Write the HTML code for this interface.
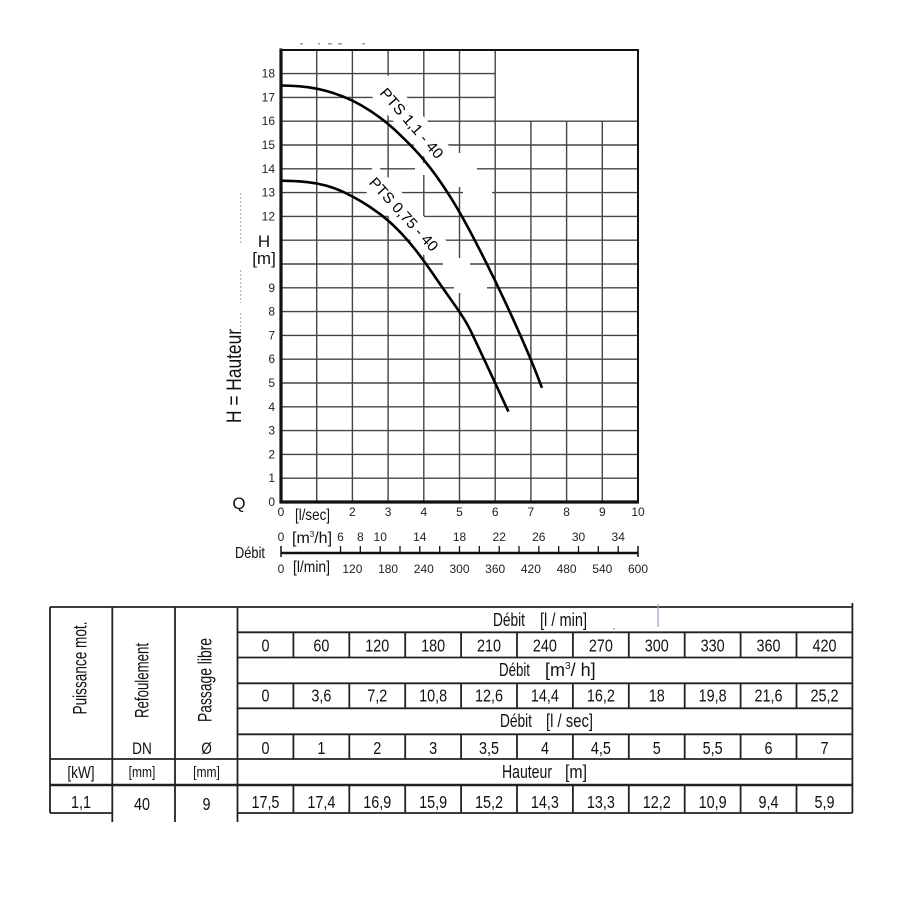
<!DOCTYPE html>
<html><head><meta charset="utf-8"><style>
html,body{margin:0;padding:0;background:#fff;}
svg{display:block;font-family:"Liberation Sans",sans-serif;}
.n{transform-box:fill-box;transform-origin:center;transform:scaleX(.8);}
</style></head><body>
<svg width="900" height="900" viewBox="0 0 900 900" xmlns="http://www.w3.org/2000/svg">
<rect width="900" height="900" fill="#fff"/>
<g fill="#999"><rect x="300" y="43" width="3" height="1.5"/><rect x="318" y="43" width="2" height="1.5"/><rect x="328" y="43" width="4" height="1.5"/><rect x="338" y="43" width="4" height="1.5"/><rect x="362" y="43" width="3" height="1.5"/></g>
<!-- grid -->
<g stroke="#444" stroke-width="1.4" fill="none">
<path d="M316.7 50V502M352.4 50V502M388.1 50V502M423.8 50V502M459.5 50V502M495.2 50V502"/>
<path d="M530.9 121.2V502M566.6 121.2V502M602.3 121.2V502"/>
<path d="M281 73.6H495.2M281 97.4H495.2"/>
<path d="M281 121.2H638M281 145H638M281 168.8H638M281 192.6H638M281 216.4H638M281 240.2H638M281 264H638M281 287.8H638M281 311.6H638M281 335.4H638M281 359.2H638M281 383H638M281 406.8H638M281 430.6H638M281 454.4H638M281 478.2H638"/>
</g>
<!-- white gaps -->
<g fill="#fff">
<rect x="415" y="163" width="62" height="12"/>
<rect x="454" y="153" width="11" height="34"/>
<rect x="463" y="186" width="29" height="13"/>
<rect x="443" y="258" width="27" height="12"/>
<rect x="454" y="258" width="11" height="34"/>
<rect x="457" y="282" width="30" height="11"/>
<g transform="translate(412,123) rotate(49)"><rect x="-52" y="-13" width="104" height="26"/></g>
<g transform="translate(404,214) rotate(47.5)"><rect x="-55" y="-13" width="110" height="26"/></g>
</g>
<!-- border -->
<g stroke="#111" fill="none">
<path d="M281 50H638V502" stroke-width="2"/>
<path d="M281 48.5V502H639" stroke-width="3.2"/>
</g>
<!-- curves -->
<g stroke="#000" stroke-width="2.6" fill="none" stroke-linejoin="round">
<path d="M281,85.5 L289.93,85.74 Q298.85,85.98 307.78,87.17 Q316.7,88.36 325.63,90.74 Q334.55,93.12 343.48,96.69 Q352.4,100.26 361.33,105.38 Q370.25,110.49 379.18,117.04 Q388.1,123.58 397.03,131.91 Q405.95,140.24 414.88,149.76 Q423.8,159.28 432.73,171.18 Q441.65,183.08 450.58,197.36 Q459.5,211.64 468.43,228.3 Q477.35,244.96 486.28,262.81 Q495.2,280.66 504.13,299.7 Q513.05,318.74 521.98,338.97 Q530.9,359.2 536.44,373.5 L541.97,387.8"/>
<path d="M281,180.7 L289.93,180.95 Q298.85,181.2 307.78,182.15 Q316.7,183.1 325.63,185.45 Q334.55,187.8 343.48,192 Q352.4,196.2 361.33,201.55 Q370.25,206.9 379.18,213.45 Q388.1,220 397.03,228.9 Q405.95,237.8 414.88,249.1 Q423.8,260.4 432.73,273.5 Q441.65,286.6 450.58,299.1 Q459.5,311.6 463.95,318.75 Q468.4,325.9 472.88,335.4 Q477.35,344.9 486.28,363.95 Q495.2,383 501.8,397.3 L508.4,411.6"/>
</g>
<!-- curve labels -->
<g font-size="15" fill="#000">
<g transform="translate(412,123) rotate(49)"><text x="-44" y="5.5" textLength="88" lengthAdjust="spacingAndGlyphs">PTS 1,1 - 40</text></g>
<g transform="translate(404,214) rotate(47.5)"><text x="-47" y="5.5" textLength="94" lengthAdjust="spacingAndGlyphs">PTS 0,75 - 40</text></g>
</g>
<!-- dashed blue -->
<g stroke="#8fb0c8" stroke-width="1" stroke-dasharray="2,2"><path d="M240.7 193V243M240.7 270V303M240.7 313V333"/></g>
<!-- y tick labels -->
<g font-size="12" fill="#222" text-anchor="end">
<text x="275" y="506">0</text><text x="275" y="482.2">1</text><text x="275" y="458.4">2</text><text x="275" y="434.6">3</text><text x="275" y="410.8">4</text><text x="275" y="387">5</text><text x="275" y="363.2">6</text><text x="275" y="339.4">7</text><text x="275" y="315.6">8</text><text x="275" y="291.8">9</text><text x="275" y="220.4">12</text><text x="275" y="196.6">13</text><text x="275" y="172.8">14</text><text x="275" y="149">15</text><text x="275" y="125.2">16</text><text x="275" y="101.4">17</text><text x="275" y="77.6">18</text>
</g>
<g font-size="17" fill="#111" text-anchor="middle">
<text x="264" y="247">H</text>
<text x="264" y="264">[m]</text>
<text x="239" y="509">Q</text>
</g>
<text transform="translate(241,376) rotate(-90)" font-size="21" fill="#111" x="-47" y="0" textLength="94" lengthAdjust="spacingAndGlyphs">H = Hauteur</text>
<!-- x tick labels -->
<g font-size="12" fill="#222" text-anchor="middle">
<text x="281" y="516">0</text><text x="352.4" y="516">2</text><text x="388.1" y="516">3</text><text x="423.8" y="516">4</text><text x="459.5" y="516">5</text><text x="495.2" y="516">6</text><text x="530.9" y="516">7</text><text x="566.6" y="516">8</text><text x="602.3" y="516">9</text><text x="638" y="516">10</text>
</g>
<text x="295" y="520" font-size="16" fill="#111" textLength="35" lengthAdjust="spacingAndGlyphs">[l/sec]</text>
<!-- second axis -->
<g stroke="#111" fill="none">
<path d="M281 553H638" stroke-width="2.6"/>
<path d="M281 546V557M638 546V557" stroke-width="1.5"/>
<path stroke-width="1.3" d="M340.5 546V553M360.3 546V553M380.2 546V553M400 546V553M419.8 546V553M439.7 546V553M459.5 546V553M479.3 546V553M499.2 546V553M519 546V553M538.8 546V553M558.7 546V553M578.5 546V553M598.3 546V553M618.2 546V553"/>
</g>
<g font-size="12" fill="#222" text-anchor="middle">
<text x="281" y="541">0</text><text x="340.5" y="541">6</text><text x="360.3" y="541">8</text><text x="380.2" y="541">10</text><text x="419.8" y="541">14</text><text x="459.5" y="541">18</text><text x="499.2" y="541">22</text><text x="538.8" y="541">26</text><text x="578.5" y="541">30</text><text x="618.2" y="541">34</text>
<text x="281" y="573">0</text><text x="352.4" y="573">120</text><text x="388.1" y="573">180</text><text x="423.8" y="573">240</text><text x="459.5" y="573">300</text><text x="495.2" y="573">360</text><text x="530.9" y="573">420</text><text x="566.6" y="573">480</text><text x="602.3" y="573">540</text><text x="638" y="573">600</text>
</g>
<text x="292" y="543" font-size="16" fill="#111">[m<tspan font-size="8" dy="-6">3</tspan><tspan dy="6">/h]</tspan></text>
<text x="293" y="572" font-size="16" fill="#111" textLength="37" lengthAdjust="spacingAndGlyphs">[l/min]</text>
<text x="235" y="558" font-size="16" fill="#111" textLength="30" lengthAdjust="spacingAndGlyphs">Débit</text>

<!-- TABLE -->
<g stroke="#222" stroke-width="1.8" fill="none">
<path d="M50 607H852.4"/>
<path d="M237.5 632.3H852.4M237.5 657.5H852.4M237.5 683.3H852.4M237.5 708.3H852.4M237.5 734.3H852.4"/>
<path d="M50 759H852.4"/>
<path d="M50 785H852.4" stroke-width="2.6"/>
<path d="M50 813H112.3M237.5 813H852.4"/>
<path d="M50 607V813M112.3 607V822M175 607V822M237.5 607V822M852.4 603V813"/>
<path d="M293.4 632.3V657.5M349.3 632.3V657.5M405.2 632.3V657.5M461.1 632.3V657.5M517 632.3V657.5M572.9 632.3V657.5M628.8 632.3V657.5M684.7 632.3V657.5M740.6 632.3V657.5M796.5 632.3V657.5"/>
<path d="M293.4 683.3V708.3M349.3 683.3V708.3M405.2 683.3V708.3M461.1 683.3V708.3M517 683.3V708.3M572.9 683.3V708.3M628.8 683.3V708.3M684.7 683.3V708.3M740.6 683.3V708.3M796.5 683.3V708.3"/>
<path d="M293.4 734.3V759M349.3 734.3V759M405.2 734.3V759M461.1 734.3V759M517 734.3V759M572.9 734.3V759M628.8 734.3V759M684.7 734.3V759M740.6 734.3V759M796.5 734.3V759"/>
<path d="M293.4 785V813M349.3 785V813M405.2 785V813M461.1 785V813M517 785V813M572.9 785V813M628.8 785V813M684.7 785V813M740.6 785V813M796.5 785V813"/>
</g>
<path d="M658 604V627" stroke="#9aa8c8" stroke-width="1.3"/>
<rect x="613" y="628" width="2" height="1.5" fill="#aaa"/>
<!-- headers -->
<g font-size="18" fill="#111">
<text x="493" y="626" textLength="32" lengthAdjust="spacingAndGlyphs">Débit</text>
<text x="540" y="626" textLength="47" lengthAdjust="spacingAndGlyphs">[l / min]</text>
<text x="499" y="676" textLength="31" lengthAdjust="spacingAndGlyphs">Débit</text>
<text x="545" y="676">[m<tspan font-size="10" dy="-7">3</tspan><tspan dy="7">/ h]</tspan></text>
<text x="500" y="727" textLength="32" lengthAdjust="spacingAndGlyphs">Débit</text>
<text x="546" y="727" textLength="47" lengthAdjust="spacingAndGlyphs">[l / sec]</text>
<text x="502" y="778" textLength="50" lengthAdjust="spacingAndGlyphs">Hauteur</text>
<text x="565" y="778" textLength="22" lengthAdjust="spacingAndGlyphs">[m]</text>
</g>
<!-- numbers -->
<g font-size="18" fill="#111" text-anchor="middle">
<text class="n" x="265.45" y="651.5">0</text><text class="n" x="321.35" y="651.5">60</text><text class="n" x="377.25" y="651.5">120</text><text class="n" x="433.15" y="651.5">180</text><text class="n" x="489.05" y="651.5">210</text><text class="n" x="544.95" y="651.5">240</text><text class="n" x="600.85" y="651.5">270</text><text class="n" x="656.75" y="651.5">300</text><text class="n" x="712.65" y="651.5">330</text><text class="n" x="768.55" y="651.5">360</text><text class="n" x="824.45" y="651.5">420</text>
<text class="n" x="265.45" y="701.5">0</text><text class="n" x="321.35" y="701.5">3,6</text><text class="n" x="377.25" y="701.5">7,2</text><text class="n" x="433.15" y="701.5">10,8</text><text class="n" x="489.05" y="701.5">12,6</text><text class="n" x="544.95" y="701.5">14,4</text><text class="n" x="600.85" y="701.5">16,2</text><text class="n" x="656.75" y="701.5">18</text><text class="n" x="712.65" y="701.5">19,8</text><text class="n" x="768.55" y="701.5">21,6</text><text class="n" x="824.45" y="701.5">25,2</text>
<text class="n" x="265.45" y="753.8">0</text><text class="n" x="321.35" y="753.8">1</text><text class="n" x="377.25" y="753.8">2</text><text class="n" x="433.15" y="753.8">3</text><text class="n" x="489.05" y="753.8">3,5</text><text class="n" x="544.95" y="753.8">4</text><text class="n" x="600.85" y="753.8">4,5</text><text class="n" x="656.75" y="753.8">5</text><text class="n" x="712.65" y="753.8">5,5</text><text class="n" x="768.55" y="753.8">6</text><text class="n" x="824.45" y="753.8">7</text>
<text class="n" x="265.45" y="808">17,5</text><text class="n" x="321.35" y="808">17,4</text><text class="n" x="377.25" y="808">16,9</text><text class="n" x="433.15" y="808">15,9</text><text class="n" x="489.05" y="808">15,2</text><text class="n" x="544.95" y="808">14,3</text><text class="n" x="600.85" y="808">13,3</text><text class="n" x="656.75" y="808">12,2</text><text class="n" x="712.65" y="808">10,9</text><text class="n" x="768.55" y="808">9,4</text><text class="n" x="824.45" y="808">5,9</text>
<text class="n" x="81" y="808">1,1</text><text class="n" x="142" y="810">40</text><text class="n" x="206.5" y="810">9</text>
</g>
<g fill="#111" text-anchor="middle">
<text class="n" x="142" y="754" font-size="17">DN</text>
<text class="n" x="206.5" y="754" font-size="17">Ø</text>
<text class="n" x="81" y="778" font-size="17">[kW]</text>
<text class="n" x="142" y="777" font-size="15">[mm]</text>
<text class="n" x="206.5" y="777" font-size="15">[mm]</text>
</g>
<!-- rotated column titles -->
<g fill="#111" font-size="19">
<text transform="translate(86.7,668) rotate(-90)" x="-46.5" y="0" textLength="93" lengthAdjust="spacingAndGlyphs">Puissance mot.</text>
<text transform="translate(148.3,680.5) rotate(-90)" x="-37.5" y="0" textLength="75" lengthAdjust="spacingAndGlyphs">Refoulement</text>
<text transform="translate(211.5,680) rotate(-90)" x="-42" y="0" textLength="84" lengthAdjust="spacingAndGlyphs">Passage libre</text>
</g>
</svg>
</body></html>
